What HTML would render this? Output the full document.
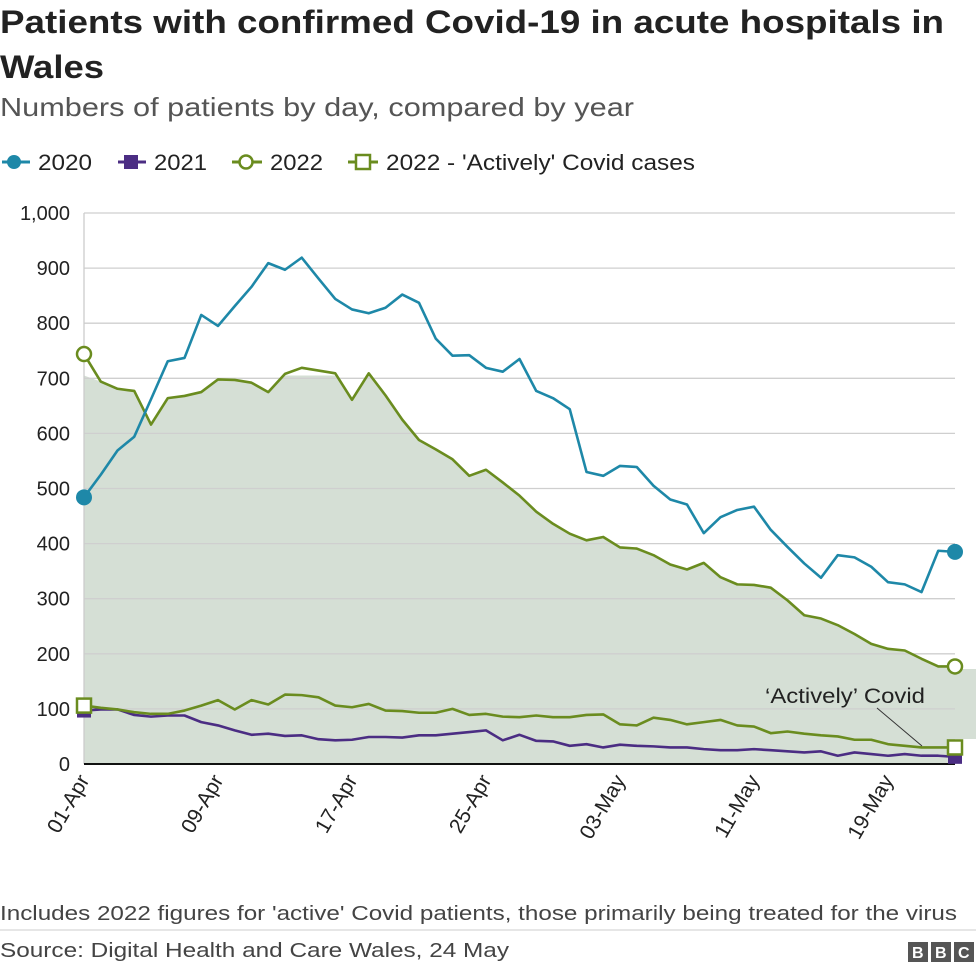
<!DOCTYPE html>
<html><head><meta charset="utf-8"><style>
body{margin:0;background:#fff;font-family:"Liberation Sans",Arial,sans-serif;}
#wrap{position:relative;width:976px;height:972px;overflow:hidden;}
</style></head><body>
<div id="wrap">
<svg id="chart" width="976" height="972" font-family="Liberation Sans, Arial, sans-serif">
<text x="0" y="33" font-size="32" font-weight="bold" fill="#222" textLength="944" lengthAdjust="spacingAndGlyphs">Patients with confirmed Covid-19 in acute hospitals in</text>
<text x="0" y="78" font-size="32" font-weight="bold" fill="#222" textLength="104" lengthAdjust="spacingAndGlyphs">Wales</text>
<text x="0" y="116" font-size="26" fill="#555" textLength="634" lengthAdjust="spacingAndGlyphs">Numbers of patients by day, compared by year</text>
<g font-size="22" fill="#222">
 <g><line x1="2" y1="162" x2="30" y2="162" stroke="#1e88a8" stroke-width="3"/><circle cx="14" cy="162" r="7" fill="#1e88a8"/><text x="38" y="170" textLength="54" lengthAdjust="spacingAndGlyphs">2020</text></g>
 <g><line x1="118" y1="162" x2="146" y2="162" stroke="#4b2d83" stroke-width="3"/><rect x="124" y="155" width="14" height="14" fill="#4b2d83"/><text x="154" y="170" textLength="53" lengthAdjust="spacingAndGlyphs">2021</text></g>
 <g><line x1="232" y1="162" x2="262" y2="162" stroke="#6a8c1f" stroke-width="3"/><circle cx="246" cy="162" r="6.5" fill="#fff" stroke="#6a8c1f" stroke-width="2.5"/><text x="270" y="170" textLength="53" lengthAdjust="spacingAndGlyphs">2022</text></g>
 <g><line x1="348" y1="162" x2="378" y2="162" stroke="#6a8c1f" stroke-width="3"/><rect x="356" y="155" width="14" height="14" fill="#fff" stroke="#6a8c1f" stroke-width="2.5"/><text x="386" y="170" textLength="309" lengthAdjust="spacingAndGlyphs">2022 - 'Actively' Covid cases</text></g>
</g>
<g id="plot"></g>
<text x="765" y="703" font-size="21" fill="#222" textLength="160" lengthAdjust="spacingAndGlyphs">‘Actively’ Covid</text>
<line x1="877" y1="708" x2="922" y2="746" stroke="#333" stroke-width="1"/>
<text x="0" y="920" font-size="20" fill="#444" textLength="957" lengthAdjust="spacingAndGlyphs">Includes 2022 figures for 'active' Covid patients, those primarily being treated for the virus</text>
<line x1="0" y1="930" x2="976" y2="930" stroke="#ccc" stroke-width="1"/>
<text x="0" y="957" font-size="20" fill="#444" textLength="509" lengthAdjust="spacingAndGlyphs">Source: Digital Health and Care Wales, 24 May</text>
<g font-size="16" font-weight="bold" fill="#fff">
 <rect x="908" y="942" width="20" height="20" fill="#555"/><text x="912" y="958">B</text>
 <rect x="931" y="942" width="20" height="20" fill="#555"/><text x="935" y="958">B</text>
 <rect x="954" y="942" width="20" height="20" fill="#555"/><text x="958" y="958">C</text>
</g>
</svg>
</div>
<script>
const yTicks=[0,100,200,300,400,500,600,700,800,900,1000];
const yTickLabels=["0","100","200","300","400","500","600","700","800","900","1,000"];
const xTickDays=[0,8,16,24,32,40,48];
const xTickLabels=["01-Apr","09-Apr","17-Apr","25-Apr","03-May","11-May","19-May"];
const s2020=[484,525,569,594,662,731,737,815,795,831,866,909,897,919,881,844,825,818,828,852,837,772,741,742,719,712,735,677,664,644,530,523,541,539,505,480,471,419,448,461,467,425,394,364,338,379,375,358,330,326,312,387,385];
const s2021=[97,99,99,89,86,88,88,76,70,61,53,55,51,52,45,43,44,49,49,48,52,52,55,58,61,43,53,42,41,33,36,30,35,33,32,30,30,27,25,25,27,25,23,21,23,15,21,18,15,18,15,15,13];
const s2022=[744,694,681,677,616,664,668,675,698,697,692,675,708,719,714,709,661,709,669,625,588,571,553,523,534,511,487,458,436,418,406,412,393,391,379,362,353,365,339,326,325,320,297,270,264,252,236,218,209,206,191,177,177];
const sActive=[106,102,99,94,91,91,97,106,116,99,116,108,126,125,121,106,103,109,97,96,93,93,100,89,91,86,85,88,85,85,89,90,72,70,84,80,72,76,80,70,68,56,59,55,52,50,44,44,36,33,30,30,30];
const NS="http://www.w3.org/2000/svg";
const x0=84,x1=955,y0=764,y1=213;
const xS=d=>x0+d*(x1-x0)/52;
const yS=v=>y0-v*(y0-y1)/1000;
const plot=document.getElementById('plot');
function mk(tag,attrs,parent){const e=document.createElementNS(NS,tag);for(const k in attrs)e.setAttribute(k,attrs[k]);(parent||plot).appendChild(e);return e;}
let pts=[[xS(0),yS(0)]];
s2022.forEach((v,i)=>pts.push([xS(i),yS(Math.min(v,705))]));
pts.push([xS(52),yS(0)]);
let area=mk('polygon',{points:pts.map(p=>p.join(',')).join(' '),fill:'#d5dfd5'});


let rr=mk('rect',{x:xS(52),y:669,width:30,height:70,fill:'#d5dfd5'});


yTicks.forEach((t,i)=>{
 if(t>0){const g=mk('line',{x1:x0,x2:x1,y1:yS(t),y2:yS(t),stroke:'#cfcfcf','stroke-width':1.3});
 
 }
 const tx=mk('text',{x:70,y:yS(t)+7,'text-anchor':'end','font-size':20,fill:'#222'});
 tx.textContent=yTickLabels[i];
 
 
});
const ya=mk('line',{x1:x0,x2:x0,y1:y1,y2:y0,stroke:'#ccc','stroke-width':1.3});


xTickDays.forEach((d,i)=>{
 const x=xS(d)+6,y=780;
 const tx=mk('text',{x:x,y:y,'text-anchor':'end','font-size':21,fill:'#222',transform:`rotate(-60 ${x} ${y})`});
 tx.textContent=xTickLabels[i];
 
 
});
function line(arr,color,name){
 const p=mk('polyline',{points:arr.map((v,i)=>xS(i)+','+yS(v)).join(' '),fill:'none',stroke:color,'stroke-width':2.6,'stroke-linejoin':'round'});
 
 
}
line(s2021,'#4b2d83','line-2021');
line(sActive,'#6a8c1f','line-2022-active');
line(s2022,'#6a8c1f','line-2022');
line(s2020,'#1e88a8','line-2020');
const xa=mk('line',{x1:x0,x2:x1,y1:y0,y2:y0,stroke:'#111','stroke-width':2});


const L=s2020.length-1;
[[0],[L]].forEach(([i])=>{
 const c=mk('circle',{cx:xS(i),cy:yS(s2020[i]),r:8,fill:'#1e88a8'});
 
 
 const r=mk('rect',{x:xS(i)-7,y:yS(s2021[i])-7,width:14,height:14,fill:'#4b2d83'});
 
 
 const c2=mk('circle',{cx:xS(i),cy:yS(s2022[i]),r:7,fill:'#fff',stroke:'#6a8c1f','stroke-width':2.5});
 
 
 const r2=mk('rect',{x:xS(i)-7,y:yS(sActive[i])-7,width:14,height:14,fill:'#fff',stroke:'#6a8c1f','stroke-width':2.5});
 
 
});
</script>
</body></html>
